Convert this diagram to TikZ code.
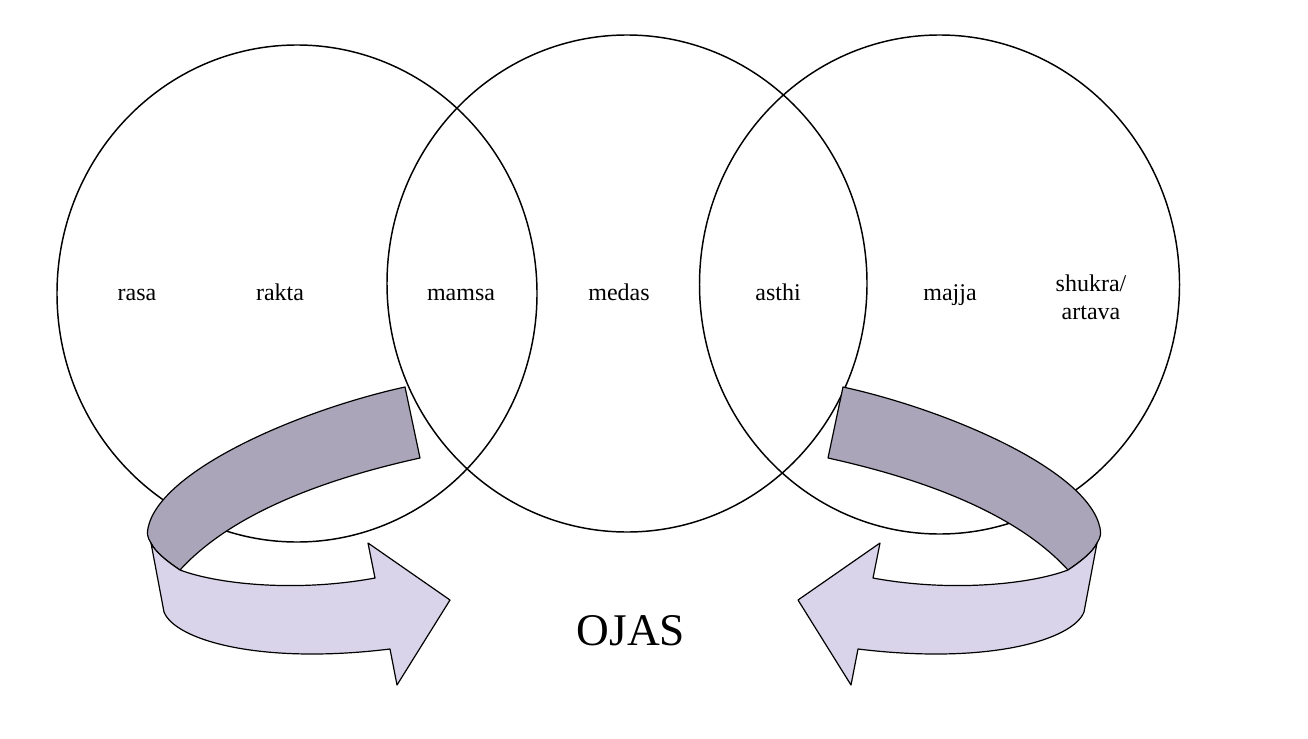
\documentclass[tikz,border=0pt]{standalone}
\usepackage{fontspec}
\setmainfont{Liberation Serif}
\definecolor{banddark}{RGB}{171,165,186}
\definecolor{bandlight}{RGB}{217,212,234}
\begin{document}
\begin{tikzpicture}[x=0.75pt,y=-0.75pt,
  ring/.style={draw=black,line width=1.1pt},
  lbl/.style={font=\fontsize{18}{21}\selectfont,align=center,inner sep=0pt},
  bigl/.style={font=\fontsize{34}{40}\selectfont,inner sep=0pt},
  bandback/.style={fill=banddark,draw=black,line width=0.9pt,line join=round},
  bandfront/.style={fill=bandlight,draw=black,line width=0.9pt,line join=round}]
\useasboundingbox (0,0) rectangle (1308,738);
% circles
\draw[ring] (297,293.5) ellipse [x radius=240, y radius=248.5];
\draw[ring] (627,283.5) ellipse [x radius=240, y radius=248.5];
\draw[ring] (939.5,284.5) ellipse [x radius=240, y radius=249.5];
% curved arrows
\newcommand{\curvedarrow}{%
  \path[bandback] (405,387) -- (420,458)
    .. controls (320,480) and (230,515) .. (180,570)
    .. controls (168,562) and (155,552) .. (151,543)
    .. controls (147,537) and (147,533) .. (148,528)
    .. controls (160,470) and (300,410) .. (405,387)
    -- cycle;
  \path[bandfront] (151,543) -- (164,612)
    .. controls (175,640) and (260,665) .. (390,649)
    -- (397,685) -- (450,600) -- (368,543) -- (375,578)
    .. controls (300,592) and (220,585) .. (180,570)
    .. controls (168,562) and (155,552) .. (151,543)
    -- cycle;}
\curvedarrow
\begin{scope}[xshift=936pt,xscale=-1]
\curvedarrow
\end{scope}
% labels
\node[lbl,anchor=base] (rasa) at (137,300) {rasa};
\node[lbl,anchor=base] (rakta) at (280,300) {rakta};
\node[lbl,anchor=base] (mamsa) at (461,300) {mamsa};
\node[lbl,anchor=base] (medas) at (619,300) {medas};
\node[lbl,anchor=base] (asthi) at (778,300) {asthi};
\node[lbl,anchor=base] (majja) at (950,300) {majja};
\node[lbl] (shukra) at (1091,297) {shukra/\\artava};
\node[bigl] (ojas) at (631,631) {OJAS};
\end{tikzpicture}
\end{document}
